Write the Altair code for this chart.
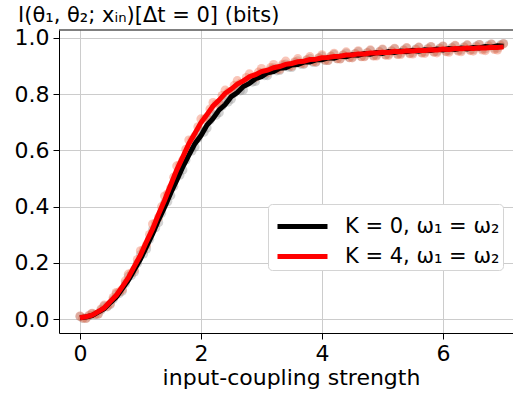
import altair as alt
import pandas as pd

# ---------------- data ----------------
X_LINE = [round(i * 0.1, 2) for i in range(71)]          # 0.0 .. 7.0
X_PTS_B = [round(0.05 + i * 0.1, 2) for i in range(70)]  # 0.05 .. 6.95

BLACK_LINE = [0.005,0.008,0.013,0.025,0.037,0.059,0.079,0.109,0.139,0.177,
              0.214,0.259,0.303,0.354,0.399,0.449,0.494,0.542,0.583,0.624,
              0.653,0.690,0.714,0.744,0.763,0.791,0.806,0.827,0.838,0.855,
              0.862,0.876,0.880,0.892,0.894,0.904,0.905,0.914,0.914,0.922,
              0.922,0.929,0.928,0.935,0.933,0.940,0.938,0.944,0.942,0.948,
              0.945,0.951,0.948,0.953,0.951,0.956,0.953,0.958,0.955,0.960,
              0.957,0.962,0.959,0.964,0.961,0.966,0.964,0.969,0.967,0.972,
              0.970]
BLACK_PTS_A = [0.010,0.004,0.020,0.018,0.047,0.052,0.090,0.100,0.152,0.168,
               0.230,0.250,0.318,0.344,0.414,0.440,0.510,0.530,0.598,0.612,
               0.668,0.680,0.728,0.734,0.778,0.782,0.820,0.815,0.851,0.845,
               0.876,0.866,0.893,0.884,0.907,0.895,0.918,0.906,0.927,0.913,
               0.935,0.920,0.941,0.926,0.946,0.931,0.951,0.935,0.955,0.939,
               0.958,0.942,0.961,0.945,0.964,0.947,0.966,0.950,0.968,0.952,
               0.970,0.954,0.972,0.956,0.974,0.958,0.976,0.961,0.978,0.963,
               0.980]
BLACK_PTS_B = [0.003,0.012,0.016,0.033,0.044,0.071,0.091,0.127,0.155,0.199,
               0.232,0.284,0.325,0.378,0.418,0.473,0.512,0.566,0.598,0.643,
               0.665,0.707,0.725,0.758,0.772,0.804,0.812,0.839,0.843,0.866,
               0.866,0.886,0.883,0.901,0.896,0.912,0.906,0.921,0.913,0.928,
               0.920,0.934,0.926,0.939,0.930,0.944,0.934,0.948,0.937,0.951,
               0.940,0.954,0.943,0.957,0.946,0.960,0.948,0.962,0.951,0.964,
               0.953,0.966,0.956,0.968,0.958,0.971,0.961,0.973,0.963,0.975]

RED_LINE = [0.005,0.009,0.014,0.027,0.040,0.063,0.085,0.116,0.148,0.189,
            0.228,0.276,0.321,0.374,0.424,0.478,0.531,0.577,0.624,0.661,
            0.699,0.728,0.758,0.779,0.803,0.818,0.836,0.847,0.862,0.869,
            0.880,0.885,0.894,0.898,0.906,0.909,0.915,0.917,0.923,0.924,
            0.929,0.930,0.934,0.935,0.939,0.939,0.943,0.943,0.946,0.946,
            0.949,0.948,0.952,0.951,0.954,0.953,0.956,0.955,0.958,0.957,
            0.960,0.959,0.962,0.961,0.964,0.962,0.965,0.964,0.967,0.966,
            0.968]
RED_PTS_A = [0.011,0.003,0.021,0.019,0.050,0.055,0.095,0.106,0.160,0.176,
             0.243,0.264,0.338,0.362,0.438,0.466,0.545,0.566,0.637,0.650,
             0.712,0.718,0.770,0.768,0.814,0.808,0.848,0.837,0.872,0.859,
             0.891,0.876,0.905,0.888,0.917,0.899,0.926,0.908,0.933,0.915,
             0.940,0.920,0.945,0.925,0.950,0.929,0.954,0.933,0.957,0.936,
             0.960,0.938,0.963,0.941,0.965,0.943,0.967,0.945,0.969,0.947,
             0.971,0.949,0.973,0.951,0.975,0.953,0.976,0.955,0.978,0.957,
             0.979]
RED_PTS_B = [0.004,0.014,0.017,0.036,0.046,0.077,0.097,0.136,0.164,0.212,
             0.247,0.301,0.342,0.400,0.446,0.505,0.549,0.604,0.637,0.684,
             0.710,0.747,0.765,0.795,0.807,0.831,0.838,0.859,0.860,0.878,
             0.877,0.894,0.890,0.906,0.902,0.915,0.910,0.922,0.916,0.929,
             0.921,0.935,0.926,0.939,0.930,0.943,0.933,0.947,0.936,0.950,
             0.939,0.953,0.941,0.956,0.944,0.958,0.946,0.960,0.949,0.962,
             0.951,0.964,0.953,0.966,0.955,0.968,0.957,0.970,0.959,0.972]

SERIES = ["K = 0, ω₁ = ω₂", "K = 4, ω₁ = ω₂"]
COLORS = ["black", "red"]
TITLE = "I(θ₁, θ₂; xᵢₙ)[Δt = 0] (bits)"
XTICKS = [0, 2, 4, 6]
YTICKS = [0.0, 0.2, 0.4, 0.6, 0.8, 1.0]

# ---------------- tables ----------------
lines = pd.concat([
    pd.DataFrame({"x": X_LINE, "y": BLACK_LINE, "s": SERIES[0]}),
    pd.DataFrame({"x": X_LINE, "y": RED_LINE, "s": SERIES[1]}),
])
black_pts = pd.concat([
    pd.DataFrame({"x": X_LINE, "y": BLACK_PTS_A}),
    pd.DataFrame({"x": X_PTS_B, "y": BLACK_PTS_B}),
])
red_pts = pd.concat([
    pd.DataFrame({"x": X_LINE, "y": RED_PTS_A}),
    pd.DataFrame({"x": X_PTS_B, "y": RED_PTS_B}),
])

W, H = 454, 303
FONT = "DejaVu Sans"

xs = alt.Scale(domain=[-0.347, 7.157], nice=False, zero=False)
ys = alt.Scale(domain=[-0.049, 1.028], nice=False, zero=False)

xax = alt.Axis(values=XTICKS, format="d", title="input-coupling strength",
               titleX=232, titleY=51, titleBaseline="alphabetic", titleAlign="center",
               titleAnchor=None)
yax = alt.Axis(values=YTICKS, format=".1f", title=None)

pts_black = alt.Chart(black_pts).mark_circle(size=85, opacity=0.35, color="gray", clip=True).encode(
    x=alt.X("x:Q", scale=xs, axis=xax), y=alt.Y("y:Q", scale=ys, axis=yax))
pts_red = alt.Chart(red_pts).mark_circle(size=85, opacity=0.4, color="#f07050", clip=True).encode(
    x=alt.X("x:Q", scale=xs), y=alt.Y("y:Q", scale=ys))

line_layer = alt.Chart(lines).mark_line(strokeWidth=5, clip=True).encode(
    x=alt.X("x:Q", scale=xs),
    y=alt.Y("y:Q", scale=ys),
    color=alt.Color("s:N", scale=alt.Scale(domain=SERIES, range=COLORS),
                    sort=SERIES,
                    legend=alt.Legend(title=None, orient="none", legendX=209, legendY=174,
                                      symbolType="M-0.765,0H2.176", symbolSize=1156,
                                      symbolStrokeWidth=5, labelFontSize=21,
                                      labelFont=FONT, labelOffset=35, rowPadding=0,
                                      padding=3, fillColor="white",
                                      strokeColor="#d4d4d4", cornerRadius=4,
                                      labelLimit=300)),
)

title_layer = alt.Chart(pd.DataFrame({"t": [TITLE]})).mark_text(
    align="left", baseline="alphabetic", fontSize=21, font=FONT, color="black"
).encode(text="t:N", x=alt.value(-41), y=alt.value(-8))

top_spine = alt.Chart(pd.DataFrame({"a": [0]})).mark_rule(color="black", strokeWidth=1).encode(
    x=alt.value(0), x2=alt.value(W), y=alt.value(0))

chart = alt.layer(pts_black, pts_red, line_layer, title_layer, top_spine).properties(
    width=W, height=H,
    padding={"left": 59, "top": 30, "right": 0, "bottom": 61},
    autosize=alt.AutoSizeParams(type="none"),
).configure_view(stroke=None).configure_axis(
    labelFont=FONT, labelFontSize=22, labelColor="black",
    titleFont=FONT, titleFontSize=22, titleColor="black", titleFontWeight="normal",
    domainColor="black", domainWidth=1, tickColor="black", tickSize=6, tickWidth=1,
    labelPadding=4, gridColor="#cccccc", gridWidth=1,
)

chart.save("out.html", embed_options={"renderer": "svg", "actions": False})
